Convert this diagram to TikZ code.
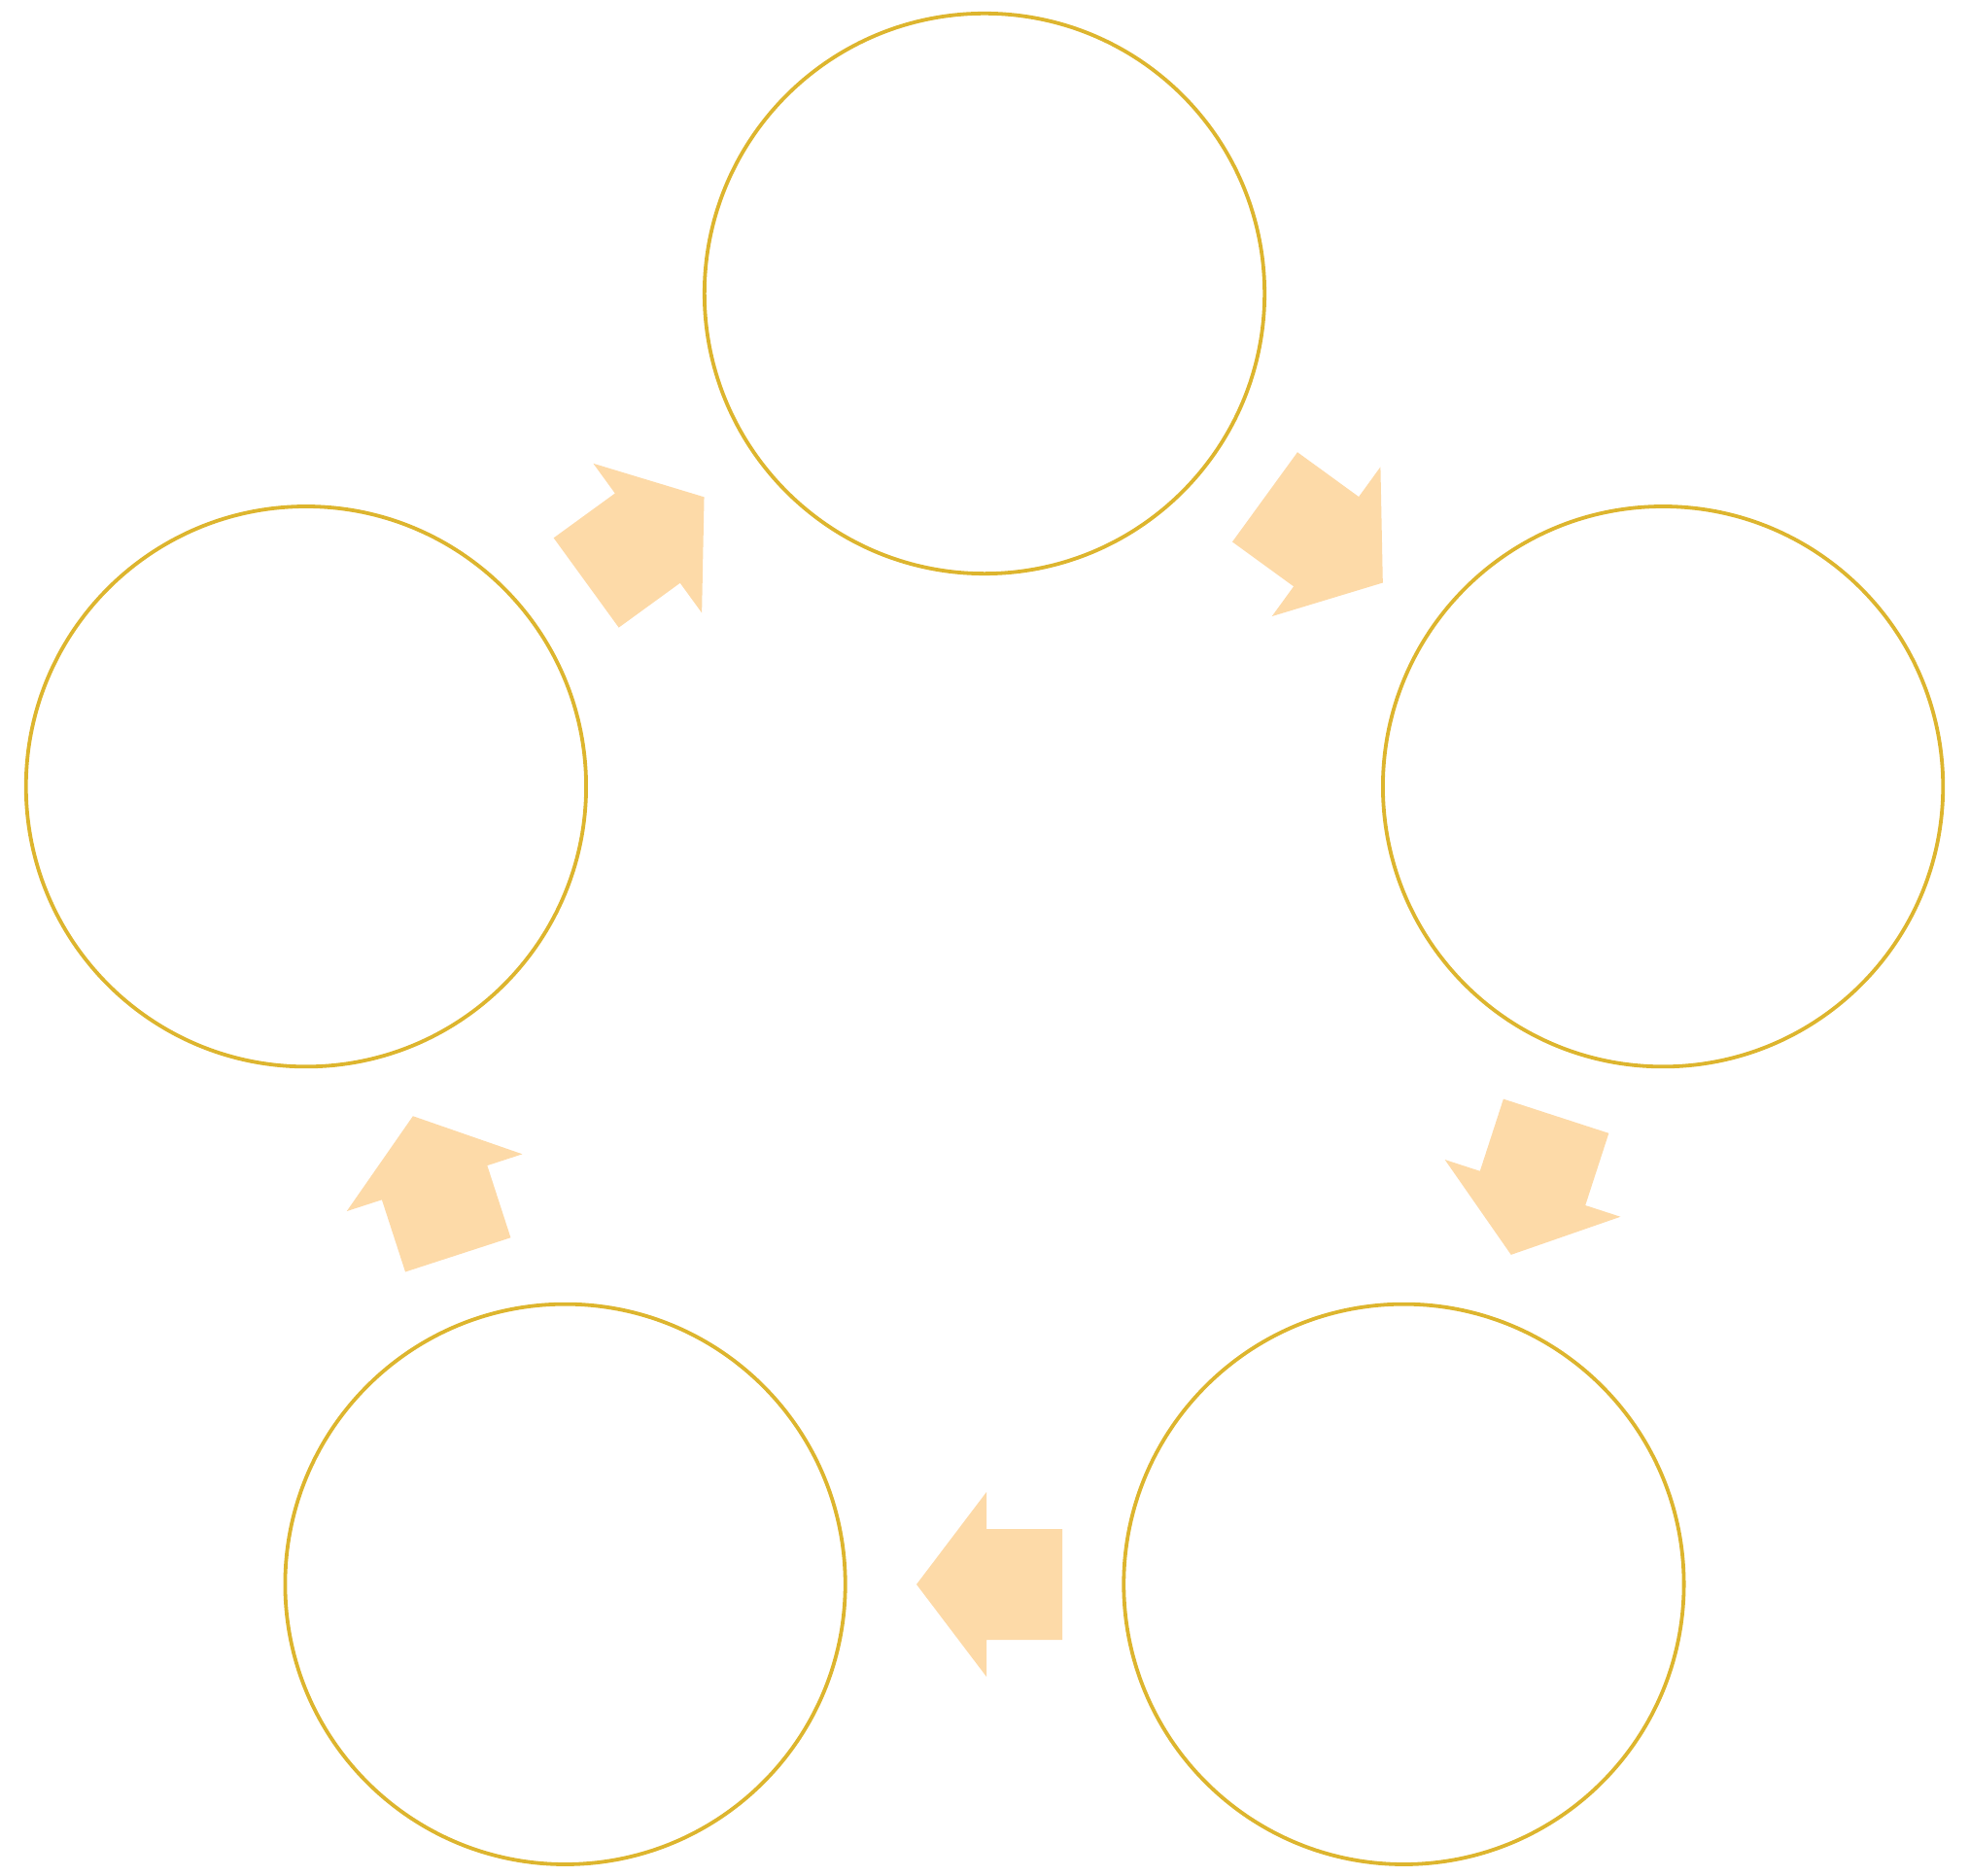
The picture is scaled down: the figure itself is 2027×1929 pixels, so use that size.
\documentclass[tikz,border=0pt]{standalone}
\definecolor{ringcol}{HTML}{DDB52E}
\definecolor{arrowcol}{HTML}{FDDAA8}
\begin{document}
\begin{tikzpicture}[x=0.01cm,y=0.01cm,
  ring/.style={circle,draw=ringcol,line width=0.038cm,minimum size=5.76cm,inner sep=0pt},
  blockarrow/.style={fill=arrowcol}]
\useasboundingbox (0,0) rectangle (2027,1929);
\coordinate (C) at (1013,893);
% circles of the cycle
\node[ring] (s1) at ([shift={(90:734)}]C) {};
\node[ring] (s2) at ([shift={(18:734)}]C) {};
\node[ring] (s3) at ([shift={(-54:734)}]C) {};
\node[ring] (s4) at ([shift={(-126:734)}]C) {};
\node[ring] (s5) at ([shift={(162:734)}]C) {};
% arrow centres
\coordinate (a1) at ([shift={(54:594)}]C);
\coordinate (a2) at ([shift={(-18:594)}]C);
\coordinate (a3) at ([shift={(-90:594)}]C);
\coordinate (a4) at ([shift={(-162:594)}]C);
\coordinate (a5) at ([shift={(126:594)}]C);
\foreach \c/\r/\o in {a1/-36/0,a2/-108/0,a3/-180/-5,a4/108/0,a5/36/0}{
  \fill[blockarrow,shift={(\c)},rotate=\r,xshift=\o*0.01cm]
    (-75,57) -- (3,57) -- (3,95) -- (75,0) -- (3,-95) -- (3,-57) -- (-75,-57) -- cycle;
}
\end{tikzpicture}
\end{document}
